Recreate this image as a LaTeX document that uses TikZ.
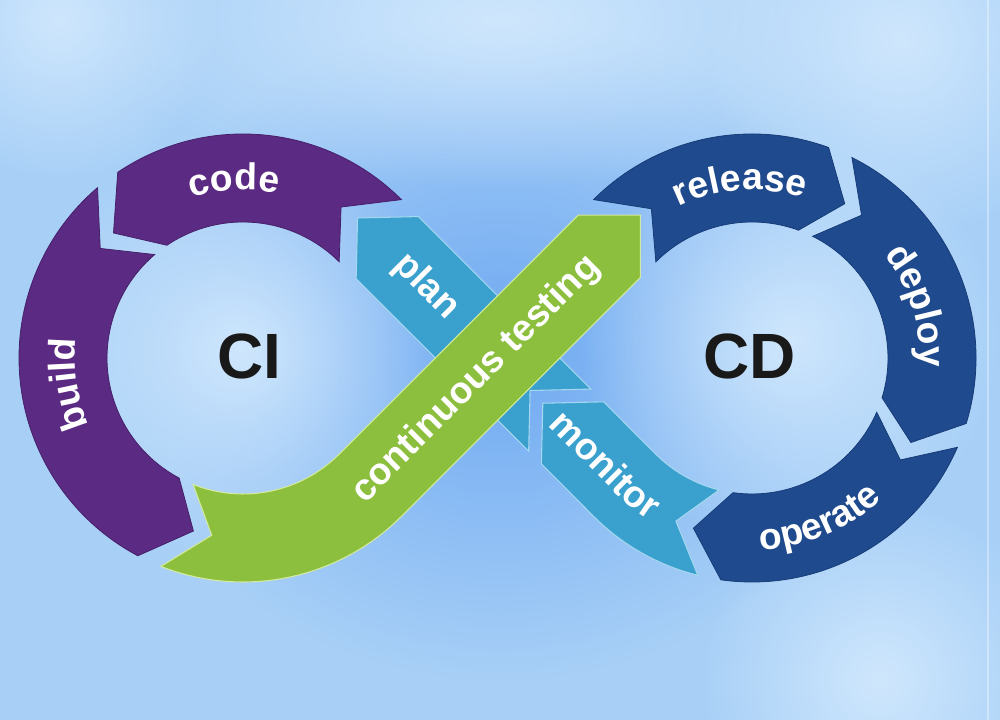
\documentclass[tikz,border=0pt]{standalone}
\usepackage{fontspec}
\setmainfont{Liberation Sans}
\usetikzlibrary{calc,decorations.text,fadings}
\definecolor{bgbase}{HTML}{A8D0F7}
\definecolor{bgblue}{HTML}{6FA9F2}
\definecolor{bglight}{HTML}{CFE7FD}
\definecolor{purp}{HTML}{5B2A82}
\definecolor{purpline}{HTML}{46206A}
\definecolor{dblue}{HTML}{1F4A8D}
\definecolor{dblueline}{HTML}{173C78}
\definecolor{lblue}{HTML}{3AA0CE}
\definecolor{lblueline}{HTML}{A5D8EF}
\definecolor{tgreen}{HTML}{8CBF3D}
\definecolor{tgreenline}{HTML}{D3EA9C}
\tikzfading[name=softglow, inner color=transparent!0, outer color=transparent!100]
\newcommand\labfont{\fontsize{28}{28}\selectfont\bfseries}
% #1 centre, #2 tail angle, #3 head angle, #4 notch angle, #5 tip angle, #6 style
\newcommand\ringseg[6]{%
  \filldraw[#6] ($(#1)+(#2:224)$) arc[start angle=#2, end angle=#3, radius=224]
    -- ($(#1)+(#5:180)$) -- ($(#1)+(#3:136)$)
    arc[start angle=#3, end angle=#2, radius=136]
    -- ($(#1)+(#4:180)$) -- cycle;}
\begin{document}
\begin{tikzpicture}[x=0.75pt,y=0.75pt,
  purpseg/.style={fill=purp, draw=purpline, line width=0.6pt},
  dblueseg/.style={fill=dblue, draw=dblueline, line width=0.6pt},
  lblueseg/.style={fill=lblue, draw=lblueline, line width=0.8pt},
  greenseg/.style={fill=tgreen, draw=tgreenline, line width=0.8pt},
  curvedlab/.style={decorate, decoration={text along path, text={|\labfont|#1}, text align=center, text color=white}},
  straightlab/.style={text=white, font=\labfont, inner sep=0pt},
  bigtext/.style={text=black!90, font=\fontsize{48}{48}\selectfont\bfseries, inner sep=0pt}]
\useasboundingbox (0,0) rectangle (1000,720);
% background
\fill[bgbase] (0,0) rectangle (1000,720);
\fill[bgblue, path fading=softglow] (500,370) ellipse [x radius=380, y radius=330];
\fill[bglight, path fading=softglow] (500,700) ellipse [x radius=420, y radius=170];
\fill[bglight, path fading=softglow] (240,370) circle [radius=210];
\fill[bglight, path fading=softglow] (790,380) circle [radius=210];
\fill[bglight, path fading=softglow] (900,680) circle [radius=200];
\fill[bglight, path fading=softglow] (880,40) circle [radius=180];
\fill[bglight, path fading=softglow] (60,700) circle [radius=160];
\draw[white, opacity=0.35, line width=0.8pt] (988,0) -- (988,720);

\coordinate (C1) at (243,362);
\coordinate (C2) at (752,362);

% CI ring
\ringseg{C1}{45}{124}{57}{136}{purpseg}        % code
\ringseg{C1}{130.5}{242}{142.5}{254}{purpseg}  % build
% CD ring
\ringseg{C2}{135}{70}{124}{59}{dblueseg}       % release
\ringseg{C2}{63.5}{-17}{52.5}{-28}{dblueseg}   % deploy
\ringseg{C2}{-23.5}{-98}{-34.5}{-109}{dblueseg}% operate

% plan (straight, head up-left)
\filldraw[lblueseg]
  ($(C1)+(45:180)+(135:18)$)
  -- ($(C1)+(45:224)+(-45:24)$)
  -- ($(C1)+(45:224)+(-45:268)$)
  -- ($(C1)+(45:180)+(-45:226)$)
  -- ($(C1)+(45:136)+(-45:268)$)
  -- ($(C1)+(45:136)+(-45:24)$) -- cycle;

% monitor (arc + straight, head up-left)
\filldraw[lblueseg]
  ($(C1)+(45:180)+(-45:244)$)
  -- ($(C1)+(45:224)+(-45:286)$)
  -- ($(C2)+(225:136)$) arc[start angle=225, end angle=256, radius=136]
  -- ($(C2)+(245:180)$)
  -- ($(C2)+(256:224)$) arc[start angle=256, end angle=225, radius=224]
  -- ($(C1)+(45:136)+(-45:286)$) -- cycle;

% continuous testing (arc + straight, head up-right)
\filldraw[greenseg]
  ($(C1)+(248.5:224)$) arc[start angle=248.5, end angle=315, radius=224]
  -- ($(C1)+(315:224)+(45:338)$)
  -- ($(C1)+(315:180)+(45:382)$)
  -- ($(C1)+(315:136)+(45:338)$)
  -- ($(C1)+(315:136)$) arc[start angle=315, end angle=248.5, radius=136]
  -- ($(C1)+(260:180)$) -- cycle;

% curved labels
\path[curvedlab=code] ($(C1)+(133:168)$) arc[start angle=133, end angle=53, radius=168];
\path[curvedlab=build] ($(C1)+(228:168)$) arc[start angle=228, end angle=149, radius=168];
\path[curvedlab=release] ($(C2)+(134:168)$) arc[start angle=134, end angle=54, radius=168];
\path[curvedlab=deploy] ($(C2)+(57:168)$) arc[start angle=57, end angle=-22, radius=168];
\path[curvedlab=operate] ($(C2)+(250:192)$) arc[start angle=250, end angle=335.5, radius=192];
\path[curvedlab=monitor] ($(C2)+(225:192)+(135:155)$) -- ($(C2)+(225:192)$)
  arc[start angle=225, end angle=255, radius=192];

% straight labels
\node[straightlab, rotate=-45] (plan) at ($(C1)+(45:180)+(-45:79)$) {plan};
\node[straightlab, rotate=45] (ct) at ($(C1)+(315:180)+(45:150)$) {continuous testing};
\node[bigtext] (CI) at (249,364) {CI};
\node[bigtext] (CD) at (750,364) {CD};
\end{tikzpicture}
\end{document}
